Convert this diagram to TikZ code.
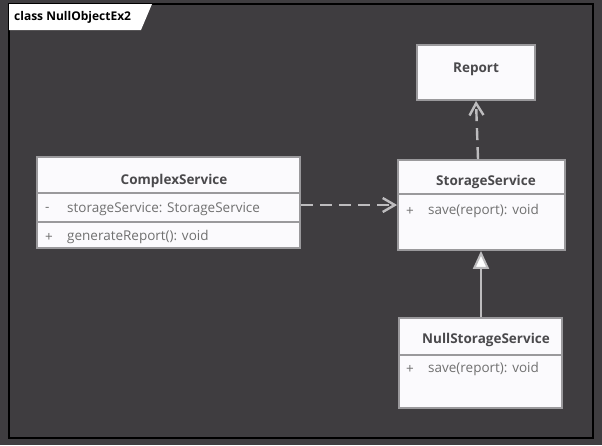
\documentclass[tikz,border=0pt]{standalone}
\usepackage{fontspec}
\setmainfont{Open Sans}
\usetikzlibrary{arrows.meta}
\definecolor{bgc}{HTML}{3F3D40}
\definecolor{boxfill}{HTML}{FBFAFD}
\definecolor{boxline}{HTML}{9A999C}
\definecolor{titlec}{HTML}{4A494C}
\definecolor{txtc}{HTML}{707070}
\definecolor{linec}{HTML}{BDBCBE}
\tikzset{
  umlbox/.style={draw=boxline, line width=1.8pt, fill=boxfill, inner sep=0pt},
  sepline/.style={draw=boxline, line width=1.4pt},
  ttl/.style={font=\fontsize{13.5}{15}\selectfont\bfseries, text=titlec, inner sep=0pt},
  mem/.style={font=\fontsize{13.5}{15}\selectfont, text=txtc, inner sep=0pt, anchor=west},
  conn/.style={draw=linec, line width=2.4pt},
  dep/.style={conn, dash pattern=on 12pt off 7pt, -{Straight Barb[length=12pt,width=14pt,line width=2.4pt]}},
  gen/.style={conn, -{Triangle[open,length=18pt,width=16pt,line width=2pt,fill=white]}},
}
\begin{document}
\begin{tikzpicture}[x=1pt,y=-1pt]
\fill[bgc] (0,0) rectangle (602,445);
\useasboundingbox (0,0) rectangle (602,445);
\draw[black, line width=1.2pt] (9,4) rectangle (593,438);
\fill[white] (9,4) -- (152,4) -- (141,30) -- (9,30) -- cycle;
\node[font=\fontsize{12}{14}\selectfont\bfseries, text=black, anchor=west, inner sep=0pt] (frametitle) at (14,17) {class NullObjectEx2};

% Report
\node[umlbox, minimum width=118pt, minimum height=55pt] (report) at (476,72.5) {};
\node[ttl] (reportt) at (476,69) {Report};

% StorageService
\node[umlbox, minimum width=167pt, minimum height=90pt] (storage) at (481.5,205) {};
\node[ttl] (storaget) at (486,182) {StorageService};
\draw[sepline] (398,194) -- (565,194);
\node[mem] (storagep) at (406,211) {+};
\node[mem] (storagem) at (428,211) {save(report): void};

% ComplexService
\node[umlbox, minimum width=263pt, minimum height=91pt] (complex) at (168.5,202.5) {};
\node[ttl] (complext) at (174,181) {ComplexService};
\draw[sepline] (37,193) -- (300,193);
\draw[sepline] (37,222) -- (300,222);
\node[mem] (complexa) at (45,209) {-};
\node[mem] (complexan) at (67,209) {storageService: StorageService};
\node[mem] (complexp) at (45,237) {+};
\node[mem] (complexm) at (67,237) {generateReport(): void};

% NullStorageService
\node[umlbox, minimum width=163pt, minimum height=90pt] (nullss) at (480.5,363) {};
\node[ttl] (nullt) at (486,340) {NullStorageService};
\draw[sepline] (399,355) -- (562,355);
\node[mem] (nullp) at (406,369) {+};
\node[mem] (nullm) at (428,369) {save(report): void};

% connectors
\draw[dep] (complex.east |- 0,205) -- (storage.west |- 0,205);
\draw[dep] (storage.north -| 478,0) -- (report.south -| 476,0);
\draw[gen] (nullss.north -| 481,0) -- (storage.south -| 481,0);
\end{tikzpicture}
\end{document}
